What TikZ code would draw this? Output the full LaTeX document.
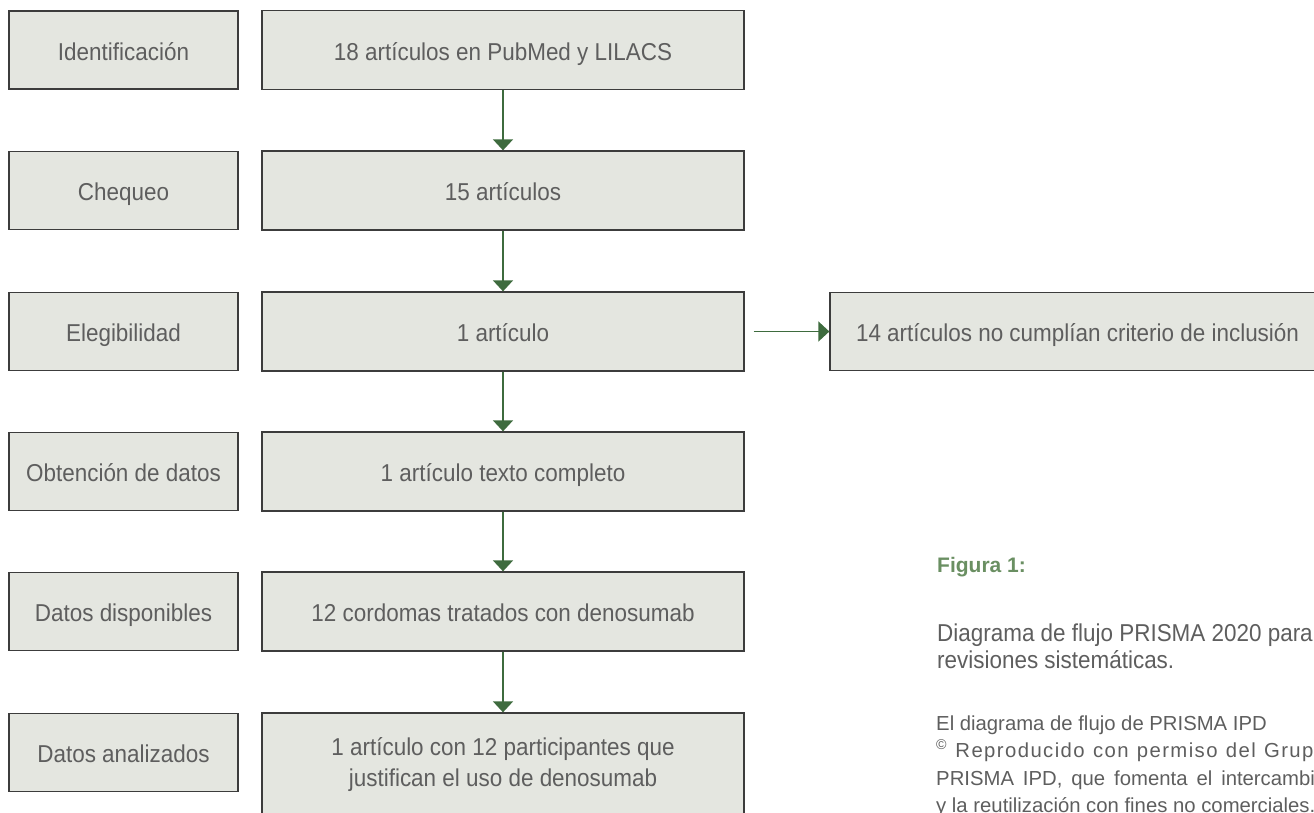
\documentclass[tikz,border=0pt]{standalone}
\usepackage{fontspec}
\setmainfont{Liberation Sans}
\newfontfamily\boxfont{Liberation Sans}[FakeStretch=0.92]
\usetikzlibrary{arrows.meta}
\definecolor{boxfill}{HTML}{E4E6E0}
\definecolor{boxline}{HTML}{3C3C3C}
\definecolor{txt}{HTML}{5E5E5E}
\definecolor{arr}{HTML}{3E6B3E}
\definecolor{figgreen}{HTML}{6A8F62}
\begin{document}
\begin{tikzpicture}[x=1pt,y=-1pt,
  stagebox/.style={draw=boxline, line width=1.3pt, fill=boxfill, inner sep=0pt, text=txt,
    font=\boxfont\fontsize{24.4}{31}\selectfont, align=center},
  oneline/.style={text height=24pt, text depth=4pt},
  leftbox/.style={stagebox, oneline, minimum width=229pt, minimum height=78pt},
  midbox/.style={stagebox, minimum width=482pt, minimum height=79pt},
  flow/.style={draw=arr, line width=1.5pt, -{Triangle[width=20pt,length=11pt]}},
  capbig/.style={anchor=base west, inner sep=0pt, text=txt, font=\boxfont\fontsize{24.4}{30}\selectfont},
  capsmall/.style={anchor=base west, inner sep=0pt, text=txt, font=\fontsize{20.3}{27}\selectfont}
]
\useasboundingbox (0,0) rectangle (1314,812);
\clip (0,0) rectangle (1314,812);

\node[leftbox] (l1) at (123.5,50) {Identificación};
\node[leftbox] (l2) at (123.5,190.5) {Chequeo};
\node[leftbox] (l3) at (123.5,331.5) {Elegibilidad};
\node[leftbox] (l4) at (123.5,471.5) {Obtención de datos};
\node[leftbox] (l5) at (123.5,611.5) {Datos disponibles};
\node[leftbox] (l6) at (123.5,752.5) {Datos analizados};

\node[midbox, oneline] (m1) at (503,50) {18 artículos en PubMed y LILACS};
\node[midbox, oneline] (m2) at (503,190.5) {15 artículos};
\node[midbox, oneline] (m3) at (503,331.5) {1 artículo};
\node[midbox, oneline] (m4) at (503,471.5) {1 artículo texto completo};
\node[midbox, oneline] (m5) at (503,611.5) {12 cordomas tratados con denosumab};
\node[midbox, minimum height=104pt] (m6) at (503,765) {1 artículo con 12 participantes que\\justifican el uso de denosumab};

\node[stagebox, oneline, minimum width=495pt, minimum height=78pt] (r3) at (1077.5,331.5) {14 artículos no cumplían criterio de inclusión};

\draw[flow] (m1) -- (m2);
\draw[flow] (m2) -- (m3);
\draw[flow] (m3) -- (m4);
\draw[flow] (m4) -- (m5);
\draw[flow] (m5) -- (m6);
\draw[flow, shorten <=9pt] (m3) -- (r3);

\node[anchor=base west, inner sep=0pt, text=figgreen, font=\bfseries\fontsize{21}{25}\selectfont] (fig) at (937,572) {Figura 1:};
\node[capbig] (cap1) at (937,641) {Diagrama de flujo PRISMA 2020 para};
\node[capbig] (cap2) at (937,668) {revisiones sistemáticas.};

\node[capsmall] (c1) at (936,730) {El diagrama de flujo de PRISMA IPD};
\node[capsmall] (c2) at (936,757) {\makebox[390pt][s]{\addfontfeature{LetterSpace=7}\textsuperscript{\textcopyright}\ Reproducido con permiso del Grupo}};
\node[capsmall] (c3) at (936,785) {\makebox[390pt][s]{PRISMA IPD, que fomenta el intercambio}};
\node[capsmall] (c4) at (936,812) {y la reutilización con fines no comerciales.};
\end{tikzpicture}
\end{document}
